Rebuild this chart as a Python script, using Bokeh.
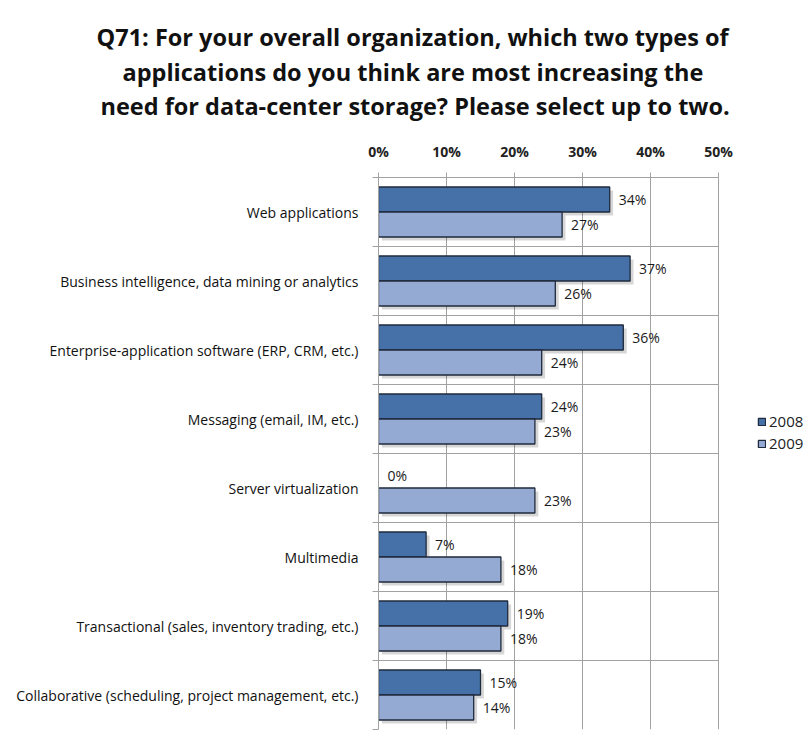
from bokeh.plotting import figure
from bokeh.models import (Range1d, FixedTicker, Legend, LegendItem, Title,
                          ColumnDataSource, Grid)
from bokeh.transform import dodge
from bokeh.core.properties import value
from bokeh.embed import file_html
from bokeh.resources import INLINE

# ---------------- data ----------------
categories = [
    "Web applications",
    "Business intelligence, data mining or analytics",
    "Enterprise-application software (ERP, CRM, etc.)",
    "Messaging (email, IM, etc.)",
    "Server virtualization",
    "Multimedia",
    "Transactional (sales, inventory trading, etc.)",
    "Collaborative (scheduling, project management, etc.)",
]
pct_2008 = [34, 37, 36, 24, 0, 7, 19, 15]
pct_2009 = [27, 26, 24, 23, 23, 18, 18, 14]
series_names = ["2008", "2009"]
x_ticks = [0, 10, 20, 30, 40, 50]
x_tick_labels = ["0%", "10%", "20%", "30%", "40%", "50%"]
title_lines = [
    "Q71: For your overall organization, which two types of",
    "applications do you think are most increasing the",
    "need for data-center storage? Please select up to two.",
]

# ---------------- styles / layout ----------------
FONT = "Open Sans"
C08 = "#4571a8"
C09 = "#95aad3"
EDGE = "#1f2a3c"
GRID = "#a2a2a2"
BAR_H = 0.362
OFF = 0.181
title_left = [96, 122, 100]
title_standoff = [33.4, -32.4, 33.4]

W, H = 810, 742
FRAME_L, PLOT_R = 378, 718          # pixel positions of 0% and 50%
x_end = x_ticks[-1] * (W - FRAME_L) / (PLOT_R - FRAME_L)

p = figure(width=W, height=H, output_backend="svg", toolbar_location=None,
           x_range=Range1d(0, x_end), y_range=Range1d(len(categories), 0),
           x_axis_location="above",
           min_border_left=FRAME_L, min_border_right=0,
           min_border_top=177, min_border_bottom=13)
p.outline_line_color = None
p.background_fill_color = "white"
p.border_fill_color = "white"

n = len(categories)
ycent = [i + 0.5 for i in range(n)]
src = ColumnDataSource(dict(
    y=ycent, cat=categories,
    v08=pct_2008, v09=pct_2009,
    l08=[f"{v}%" for v in pct_2008], l09=[f"{v}%" for v in pct_2009],
    s09=[v + 0.5 for v in pct_2009],
))
keep = [i for i, v in enumerate(pct_2008) if v > 0]
src08 = ColumnDataSource(dict(y=[ycent[i] for i in keep],
                              v=[pct_2008[i] for i in keep],
                              s=[pct_2008[i] + 0.5 for i in keep]))

# shadows
p.hbar(y=dodge("y", -OFF + 0.05), left=0.5, right="s", height=BAR_H,
       source=src08, fill_color="#000000", fill_alpha=0.16, line_alpha=0)
p.hbar(y=dodge("y", OFF + 0.05), left=0.5, right="s09", height=BAR_H,
       source=src, fill_color="#000000", fill_alpha=0.16, line_alpha=0)

r08 = p.hbar(y=dodge("y", -OFF), left=0, right="v", height=BAR_H, source=src08,
             fill_color=C08, line_color=EDGE, line_width=1.3)
r09 = p.hbar(y=dodge("y", OFF), left=0, right="v09", height=BAR_H, source=src,
             fill_color=C09, line_color=EDGE, line_width=1.3)

p.text(x="v08", y=dodge("y", -OFF), text="l08", source=src, x_offset=9,
       text_baseline="middle", text_font=value(FONT), text_font_size="14px",
       text_color="#1a1a1a")
p.text(x="v09", y=dodge("y", OFF), text="l09", source=src, x_offset=9,
       text_baseline="middle", text_font=value(FONT), text_font_size="14px",
       text_color="#1a1a1a")

# x axis (top)
xt = FixedTicker(ticks=x_ticks, minor_ticks=[])
p.xaxis.ticker = xt
p.xgrid.ticker = xt
p.xaxis.bounds = (x_ticks[0], x_ticks[-1])
p.xaxis.major_label_overrides = {t: l for t, l in zip(x_ticks, x_tick_labels)}
p.xaxis.axis_line_color = GRID
p.xaxis.major_tick_line_color = GRID
p.xaxis.major_tick_out = 5
p.xaxis.major_tick_in = 0
p.xaxis.minor_tick_out = 0
p.xaxis.minor_tick_in = 0
p.xaxis.major_label_standoff = 12
p.xaxis.major_label_text_font = FONT
p.xaxis.major_label_text_font_style = "bold"
p.xaxis.major_label_text_font_size = "14px"
p.xaxis.major_label_text_color = "#222222"
p.xgrid.grid_line_color = GRID

# y axis (categories)
yt = FixedTicker(ticks=ycent, minor_ticks=list(range(n + 1)))
p.yaxis.ticker = yt
p.ygrid.ticker = yt
p.yaxis.major_label_overrides = {c: t for c, t in zip(ycent, categories)}
p.yaxis.axis_line_color = GRID
p.yaxis.major_tick_out = 0
p.yaxis.major_tick_in = 0
p.yaxis.minor_tick_out = 6
p.yaxis.minor_tick_in = 0
p.yaxis.minor_tick_line_color = GRID
p.yaxis.major_label_standoff = 14
p.yaxis.major_label_text_font = FONT
p.yaxis.major_label_text_font_size = "14px"
p.yaxis.major_label_text_color = "#111111"
p.ygrid.grid_line_color = None
if "cross_bounds" in Grid.properties():
    p.ygrid.cross_bounds = (x_ticks[0], x_ticks[-1])
    p.ygrid.minor_grid_line_color = GRID
else:
    p.ygrid.minor_grid_line_color = None
    bnds = list(range(n + 1))
    p.segment(x0=[x_ticks[0]] * len(bnds), x1=[x_ticks[-1]] * len(bnds),
              y0=bnds, y1=bnds, line_color=GRID, line_width=1)

# legend (inside the widened frame, right of the 50% line)
legend = Legend(items=[LegendItem(label=series_names[0], renderers=[r08]),
                       LegendItem(label=series_names[1], renderers=[r09])],
                location=(379, 276), orientation="vertical",
                border_line_color=None, background_fill_alpha=0,
                glyph_width=9, glyph_height=9, label_standoff=3, spacing=2,
                padding=0, margin=0, label_height=20,
                label_text_font=FONT, label_text_font_size="15px",
                label_text_color="#222222")
p.add_layout(legend)

# title (three lines, bottom line first so it sits nearest the axis)
for k in [2, 1, 0]:
    p.add_layout(Title(text=title_lines[k], align="left",
                       offset=title_left[k] - FRAME_L,
                       text_font=FONT, text_font_style="bold",
                       text_font_size="23.5px", text_color="#111111",
                       standoff=title_standoff[k]), "above")

open("out.html", "w").write(file_html(p, INLINE))
